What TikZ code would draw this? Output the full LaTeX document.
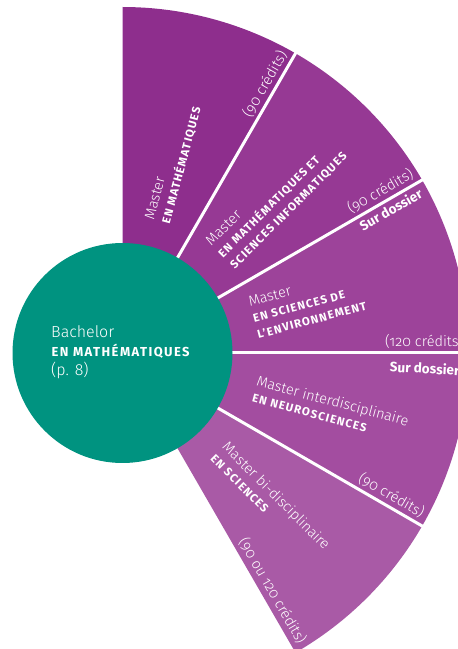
\documentclass[tikz,border=0pt]{standalone}
\usepackage{fontspec}
\setmainfont{Fira Sans}[Numbers=OldStyle, UprightFont=* Light, BoldFont=* Bold]
\newfontfamily\capsfont{Fira Sans}[UprightFont=* Bold, LetterSpace=10, Numbers=OldStyle]
\newfontfamily\capsbig{Fira Sans}[UprightFont=* Bold, LetterSpace=11, Numbers=OldStyle]
\definecolor{wA}{RGB}{142,46,141}
\definecolor{wB}{RGB}{150,57,148}
\definecolor{wC}{RGB}{157,67,154}
\definecolor{wD}{RGB}{163,77,160}
\definecolor{wE}{RGB}{169,90,166}
\definecolor{tealc}{RGB}{0,147,128}
\newcommand\mst{\fontsize{14.5}{16.5}\selectfont}
\newcommand\cps{\capsfont\fontsize{11.5}{16.5}\selectfont}
\begin{document}
\begin{tikzpicture}[x=1pt,y=1pt,
  every node/.style={inner sep=0pt, text=white},
  wtext/.style={anchor=west, align=left, font=\fontsize{11.5}{16.5}\selectfont},
  credit/.style={font=\mst},
  dossier/.style={font=\bfseries\fontsize{13.5}{14}\selectfont}]
\useasboundingbox (0,0) rectangle (458,649);
\clip (0,0) rectangle (458,649);
\coordinate (C) at (122.5,296);
\def\R{346pt}
\foreach \a/\b/\c in {90/60/wA,60/30/wB,30/0/wC,0/-30/wD,-30/-60/wE}
  \fill[\c] (C) -- ++(\a:\R) arc[start angle=\a, end angle=\b, radius=\R] -- cycle;
\foreach \a in {60,30,0,-30}
  \draw[white, line width=3pt] (C) -- ++(\a:352pt);
\node[circle, fill=tealc, minimum size=220pt] (bach) at (C) {};
\node[anchor=base west, font=\fontsize{16}{18}\selectfont] (b1) at (51,311) {Bachelor};
\node[anchor=base west, font=\capsbig\fontsize{13}{16}\selectfont] (b2) at (51.5,292.5) {EN MATHÉMATIQUES};
\node[anchor=base west, font=\fontsize{16}{18}\selectfont] (b3) at (51,273) {(p. 8)};
% wedge texts
\path (C) ++(75:136pt) coordinate (t1);
\path (C) ++(45:138pt) coordinate (t2);
\path (C) ++(15:135pt) coordinate (t3);
\path (C) ++(-15:137pt) coordinate (t4);
\path (C) ++(-45:137pt) coordinate (t5);
\node[wtext, rotate=75] (m1) at (t1) {{\mst Master}\\{\cps EN MATHÉMATIQUES}};
\node[wtext, rotate=45] (m2) at (t2) {{\mst Master}\\{\cps EN MATHÉMATIQUES ET}\\{\cps SCIENCES INFORMATIQUES}};
\node[wtext, rotate=15] (m3) at (t3) {{\mst Master}\\{\cps EN SCIENCES DE}\\{\cps L’ENVIRONNEMENT}};
\node[wtext, rotate=-15] (m4) at (t4) {{\mst Master interdisciplinaire}\\{\cps EN NEUROSCIENCES}};
\node[wtext, rotate=-45] (m5) at (t5) {{\mst Master bi-disciplinaire}\\{\cps EN SCIENCES}};
% credits
\path (C) ++(60:341pt) ++(150:4pt) coordinate (k1);
\path (C) ++(30:341pt) ++(120:4pt) coordinate (k2);
\path (C) ++(0:341pt) ++(90:4pt) coordinate (k3);
\path (C) ++(-30:341pt) ++(60:4pt) coordinate (k4);
\path (C) ++(-60:341pt) ++(30:4pt) coordinate (k5);
\node[credit, anchor=south east, rotate=60] (c1) at (k1) {(90 crédits)};
\node[credit, anchor=south east, rotate=30] (c2) at (k2) {(90 crédits)};
\node[credit, anchor=south east] (c3) at (k3) {(120 crédits)};
\node[credit, anchor=south east, rotate=-30] (c4) at (k4) {(90 crédits)};
\node[credit, anchor=south east, rotate=-60] (c5) at (k5) {(90 ou 120 crédits)};
% sur dossier
\path (C) ++(30:339pt) ++(-60:4pt) coordinate (d1);
\node[dossier, anchor=north east, rotate=30] (s1) at (d1) {Sur dossier};
\node[dossier, anchor=north west, rotate=-3] (s2) at (390,288.5) {Sur dossier};
\end{tikzpicture}
\end{document}
